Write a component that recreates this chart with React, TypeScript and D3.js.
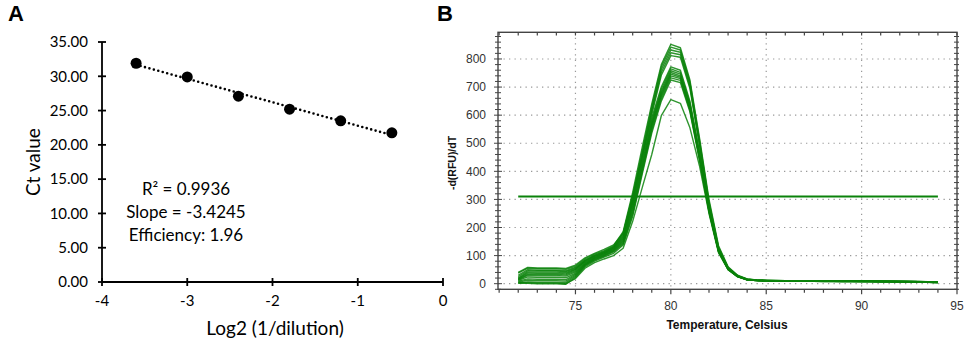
import React from "react";
import * as d3 from "d3";

// ---------- Panel A data ----------
const log2Dilution = [-3.6, -3.0, -2.4, -1.8, -1.2, -0.6];
const ctValues = [31.9, 29.9, 27.1, 25.2, 23.5, 21.75];
const aYTicks = [0, 5, 10, 15, 20, 25, 30, 35];
const aXTicks = [-4, -3, -2, -1, 0];
const annotation = ["R\u00B2 = 0.9936", "Slope = -3.4245", "Efficiency: 1.96"];

// ---------- Panel B data ----------
const temps = [72, 72.5, 73, 73.5, 74, 74.5, 75, 75.5, 76, 76.5, 77, 77.5, 78, 78.5, 79, 79.5, 80, 80.5, 81, 81.5, 82, 82.5, 83, 83.5, 84, 84.5, 85, 86, 87, 88, 89, 90, 91, 92, 93, 94];
const c1 = [38, 55, 53, 53, 53, 51, 62, 88, 105, 118, 135, 185, 325, 485, 640, 780, 852, 840, 725, 520, 300, 135, 60, 30, 17, 13, 12, 11, 11, 10, 10, 10, 9, 9, 8, 6];
const c2 = [30, 50, 48, 48, 48, 46, 58, 84, 102, 115, 132, 180, 315, 472, 630, 772, 842, 832, 718, 512, 292, 130, 58, 29, 16, 13, 12, 11, 10, 10, 10, 9, 9, 8, 8, 5];
const c3 = [25, 46, 45, 45, 45, 43, 55, 82, 100, 113, 130, 175, 305, 462, 620, 762, 832, 824, 710, 505, 288, 128, 57, 28, 16, 12, 11, 11, 10, 10, 9, 9, 9, 8, 7, 5];
const c4 = [20, 42, 41, 41, 41, 39, 52, 80, 98, 111, 128, 170, 298, 455, 612, 752, 822, 815, 702, 498, 282, 125, 56, 28, 16, 12, 11, 10, 10, 10, 9, 9, 8, 8, 7, 5];
const c5 = [18, 38, 37, 37, 37, 35, 50, 78, 96, 110, 127, 166, 292, 448, 602, 742, 812, 806, 695, 492, 278, 122, 55, 27, 15, 12, 11, 10, 10, 9, 9, 9, 8, 8, 7, 5];
const c6 = [40, 58, 56, 56, 56, 54, 66, 92, 108, 122, 138, 180, 312, 452, 590, 700, 772, 760, 650, 470, 275, 122, 55, 27, 15, 12, 11, 10, 10, 10, 9, 9, 9, 8, 7, 5];
const c7 = [15, 34, 33, 33, 33, 31, 46, 75, 94, 108, 125, 162, 288, 436, 580, 692, 765, 752, 643, 465, 272, 120, 54, 27, 15, 12, 11, 10, 10, 9, 9, 9, 8, 8, 7, 5];
const c8 = [14, 30, 29, 29, 29, 27, 42, 72, 92, 106, 122, 158, 280, 428, 572, 684, 758, 746, 638, 460, 268, 118, 53, 26, 15, 12, 11, 10, 10, 9, 9, 9, 8, 8, 7, 5];
const c9 = [12, 24, 23, 23, 23, 21, 38, 70, 90, 104, 120, 154, 272, 420, 566, 678, 752, 740, 632, 455, 265, 117, 53, 26, 15, 12, 11, 10, 9, 9, 9, 8, 8, 7, 7, 5];
const c10 = [9, 17, 16, 16, 16, 14, 34, 68, 88, 102, 118, 150, 265, 412, 560, 672, 746, 735, 628, 452, 262, 116, 52, 26, 14, 11, 10, 10, 9, 9, 9, 8, 8, 7, 6, 4];
const c11 = [6, 12, 11, 11, 11, 9, 30, 66, 86, 100, 116, 146, 256, 405, 552, 666, 740, 730, 622, 448, 260, 115, 52, 25, 14, 11, 10, 10, 9, 9, 8, 8, 8, 7, 6, 4];
const c12 = [3, 6, 5, 5, 5, 4, 26, 64, 84, 98, 113, 142, 248, 398, 545, 658, 733, 724, 617, 444, 258, 114, 51, 25, 14, 11, 10, 9, 9, 9, 8, 8, 8, 7, 6, 4];
const c13 = [1, 1, 0, 0, 0, -2, 22, 60, 80, 95, 108, 138, 240, 390, 536, 650, 725, 716, 612, 440, 255, 113, 50, 25, 14, 11, 10, 9, 9, 8, 8, 8, 7, 7, 6, 4];
const c14 = [4, 3, 2, 2, 2, 0, 18, 55, 75, 88, 100, 126, 222, 342, 460, 598, 655, 642, 555, 420, 250, 110, 50, 24, 14, 11, 10, 9, 9, 8, 8, 8, 7, 7, 6, 4];
const curves = [c14, c13, c12, c11, c10, c9, c8, c7, c6, c5, c4, c3, c2, c1];
const threshold = 310;
const thresholdRange = [72, 94];
const bXTicks = [75, 80, 85, 90, 95];
const bYTicks = [0, 100, 200, 300, 400, 500, 600, 700, 800];

const FONT_A = "Lato, 'Open Sans', sans-serif";
const FONT_B = "'Liberation Sans', Arial, sans-serif";
const GREEN = "#0a820a";

export default function App() {
  // Panel A scales
  const ax = d3.scaleLinear().domain([-4, 0]).range([102, 443]);
  const ay = d3.scaleLinear().domain([0, 35]).range([282, 42]);
  const pts = log2Dilution.map((x, i) => [x, ctValues[i]] as [number, number]);
  const mx = d3.mean(log2Dilution) as number;
  const my = d3.mean(ctValues) as number;
  const sxy = d3.sum(pts, (p) => (p[0] - mx) * (p[1] - my));
  const sxx = d3.sum(pts, (p) => (p[0] - mx) ** 2);
  const slope = sxy / sxx;
  const icpt = my - slope * mx;
  const x0 = log2Dilution[0];
  const x1 = log2Dilution[log2Dilution.length - 1];
  const trend = d3.line<number>().x((x) => ax(x)).y((x) => ay(slope * x + icpt))([x0, x1]) as string;

  // Panel B scales
  const bx = d3.scaleLinear().domain([70.94, 95]).range([498, 957]);
  const by = d3.scaleLinear().domain([-20, 895]).range([289.3, 32.3]);
  const line = d3
    .line<number>()
    .x((_, i) => bx(temps[i]))
    .y((v) => by(v));
  const minorX = d3.range(71, 96, 1);
  const minorY = d3.range(-20, 895, 20);

  return (
    <svg
      width={968}
      height={351}
      style={{ position: "absolute", left: 0, top: 0, background: "#fff" }}
    >
      <rect x={0} y={0} width={968} height={351} fill="#fff" />
      {/* Panel labels */}
      <text x={8} y={21} fontFamily={FONT_B} fontWeight="bold" fontSize={22} fill="#000">A</text>
      <text x={437} y={21} fontFamily={FONT_B} fontWeight="bold" fontSize={22} fill="#000">B</text>

      {/* ----- Panel A ----- */}
      <g>
        <line x1={ax(-4)} x2={ax(0)} y1={ay(0)} y2={ay(0)} stroke="#000" strokeWidth={1.8} />
        <line x1={ax(-4)} x2={ax(-4)} y1={ay(0)} y2={ay(35)} stroke="#000" strokeWidth={1.8} />
        {aYTicks.map((t) => (
          <g key={"ay" + t}>
            <line x1={ax(-4) - 4} x2={ax(-4) + 4} y1={ay(t)} y2={ay(t)} stroke="#000" strokeWidth={1.8} />
            <text x={88} y={ay(t)} dy="0.35em" textAnchor="end" fontFamily={FONT_A} fontSize={15} fill="#000">
              {t.toFixed(2)}
            </text>
          </g>
        ))}
        {aXTicks.map((t) => (
          <g key={"ax" + t}>
            <line x1={ax(t)} x2={ax(t)} y1={ay(0) - 4} y2={ay(0) + 4} stroke="#000" strokeWidth={1.8} />
            <text x={ax(t)} y={301} dy="0.35em" textAnchor="middle" fontFamily={FONT_A} fontSize={15} fill="#000">
              {t}
            </text>
          </g>
        ))}
        <text
          transform={`translate(33,162) rotate(-90)`}
          textAnchor="middle"
          dy="0.35em"
          fontFamily={FONT_A}
          fontSize={19}
          fill="#000"
        >
          Ct value
        </text>
        <text x={275} y={328} dy="0.35em" textAnchor="middle" fontFamily={FONT_A} fontSize={19} fill="#000">
          Log2 (1/dilution)
        </text>
        <path d={trend} fill="none" stroke="#000" strokeWidth={2.6} strokeLinecap="round" strokeDasharray="0,4.6" />
        {pts.map((p, i) => (
          <circle key={"p" + i} cx={ax(p[0])} cy={ay(p[1])} r={5.5} fill="#000" />
        ))}
        {annotation.map((s, i) => (
          <text key={"an" + i} x={186} y={189 + i * 23} dy="0.35em" textAnchor="middle" fontFamily={FONT_A} fontSize={17} fill="#000">
            {s}
          </text>
        ))}
      </g>

      {/* ----- Panel B ----- */}
      <g>
        {/* grid */}
        {bYTicks.map((t) => (
          <line key={"gy" + t} x1={498} x2={957} y1={by(t)} y2={by(t)} stroke="#999" strokeWidth={1.2} strokeDasharray="1.3,4.2" />
        ))}
        {bXTicks.slice(0, 4).map((t) => (
          <line key={"gx" + t} x1={bx(t)} x2={bx(t)} y1={32.3} y2={289.3} stroke="#999" strokeWidth={1.2} strokeDasharray="1.3,4.2" />
        ))}
        {/* curves */}
        {curves.map((c, i) => (
          <path key={"c" + i} d={line(c) as string} fill="none" stroke={GREEN} strokeWidth={1.4} strokeOpacity={0.85} strokeLinejoin="round" />
        ))}
        <line x1={bx(thresholdRange[0])} x2={bx(thresholdRange[1])} y1={by(threshold)} y2={by(threshold)} stroke={GREEN} strokeWidth={2} />
        {/* frame */}
        <rect x={498} y={32.3} width={459} height={257} fill="none" stroke="#444" strokeWidth={1.4} />
        {minorX.map((t) => (
          <g key={"mx" + t}>
            <line x1={bx(t)} x2={bx(t)} y1={289.3} y2={289.3 + (t % 5 === 0 ? 5 : 3.5)} stroke="#444" strokeWidth={1.2} />
            <line x1={bx(t)} x2={bx(t)} y1={32.3} y2={35.5} stroke="#444" strokeWidth={1.2} />
          </g>
        ))}
        {minorY.map((t) => (
          <g key={"my" + t}>
            <line x1={498 - (t % 100 === 0 ? 4 : 3)} x2={498 + (t % 100 === 0 ? 4 : 3)} y1={by(t)} y2={by(t)} stroke="#444" strokeWidth={1} />
            <line x1={957 - 3} x2={957 + 2} y1={by(t)} y2={by(t)} stroke="#444" strokeWidth={1} />
          </g>
        ))}
        {bYTicks.map((t) => (
          <text key={"ty" + t} x={486} y={by(t)} dy="0.35em" textAnchor="end" fontFamily={FONT_B} fontSize={12} fill="#333">
            {t}
          </text>
        ))}
        {bXTicks.map((t) => (
          <text key={"tx" + t} x={bx(t)} y={306} dy="0.35em" textAnchor="middle" fontFamily={FONT_B} fontSize={12} fill="#333">
            {t}
          </text>
        ))}
        <text
          transform={`translate(452,163) rotate(-90)`}
          textAnchor="middle"
          dy="0.35em"
          fontFamily={FONT_B}
          fontWeight="bold"
          fontSize={10.5}
          fill="#111"
        >
          -d(RFU)/dT
        </text>
        <text x={727} y={325} dy="0.35em" textAnchor="middle" fontFamily={FONT_B} fontWeight="bold" fontSize={12} fill="#111">
          Temperature, Celsius
        </text>
      </g>
    </svg>
  );
}
